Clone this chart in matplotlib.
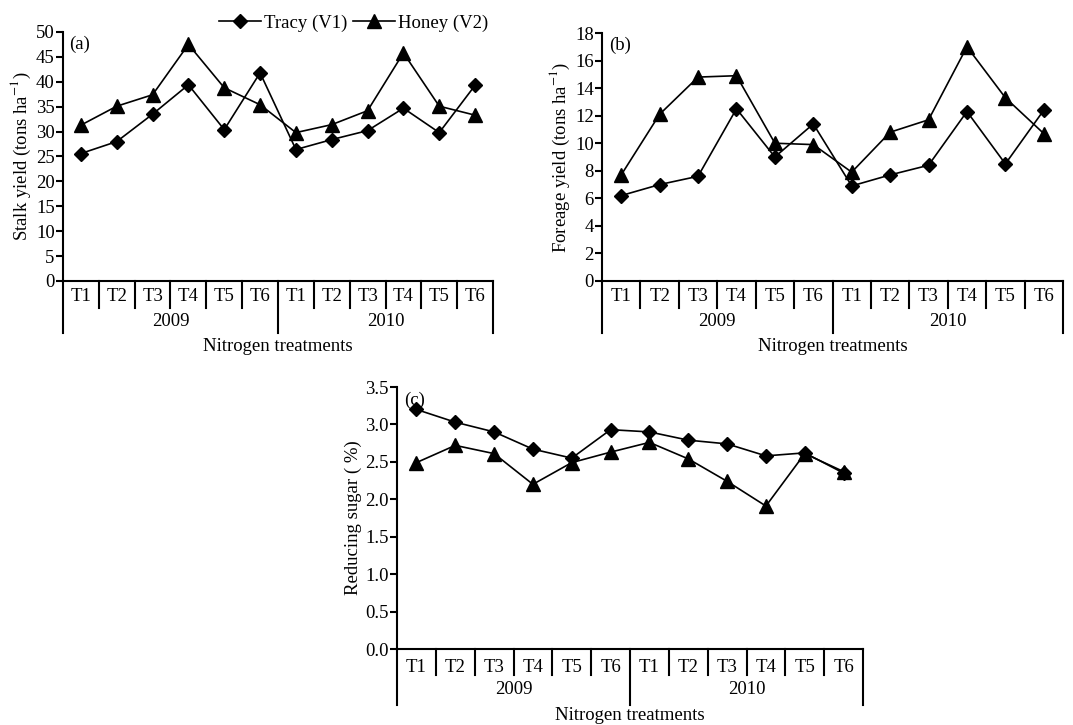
import matplotlib
matplotlib.use('Agg')
import matplotlib.pyplot as plt

plt.rcParams['font.family'] = ['Liberation Serif', 'DejaVu Serif']
plt.rcParams['mathtext.fontset'] = 'stix'
plt.rcParams['font.size'] = 11

# data
treatments = ['T1', 'T2', 'T3', 'T4', 'T5', 'T6'] * 2
years = ['2009', '2010']

stalk_tracy = [25.6, 28.0, 33.5, 39.4, 30.4, 41.8, 26.4, 28.4, 30.2, 34.7, 29.8, 39.3]
stalk_honey = [31.3, 35.1, 37.4, 47.5, 38.8, 35.4, 29.8, 31.4, 34.2, 45.8, 35.1, 33.3]

forage_tracy = [6.2, 7.0, 7.6, 12.5, 9.0, 11.4, 6.9, 7.7, 8.4, 12.3, 8.5, 12.4]
forage_honey = [7.7, 12.1, 14.8, 14.9, 10.0, 9.9, 7.9, 10.8, 11.7, 17.0, 13.3, 10.7]

sugar_tracy = [3.20, 3.03, 2.90, 2.67, 2.55, 2.93, 2.90, 2.79, 2.74, 2.58, 2.62, 2.35]
sugar_honey = [2.49, 2.72, 2.61, 2.20, 2.49, 2.63, 2.76, 2.54, 2.24, 1.91, 2.61, 2.37]

W, H = 1073, 725
fig = plt.figure(figsize=(W / 100, H / 100), dpi=100)
FS = 13.5


def panel(rect, tracy, honey, ylim, step, fmt, ylabel, tag, tpad, short, long_):
    ax = fig.add_axes(rect)
    x = list(range(len(tracy)))
    ax.plot(x, tracy, color='black', lw=1.2, marker='D', ms=7, label='Tracy (V1)')
    ax.plot(x, honey, color='black', lw=1.2, marker='^', ms=10.5, label='Honey (V2)')
    ax.set_xlim(-0.5, 11.5)
    ax.set_ylim(0, ylim)
    ticks = [i * step for i in range(int(round(ylim / step)) + 1)]
    ax.set_yticks(ticks)
    ax.set_yticklabels([fmt % t for t in ticks])
    ax.set_xticks([])
    for s in ['top', 'right']:
        ax.spines[s].set_visible(False)
    for s in ['left', 'bottom']:
        ax.spines[s].set_linewidth(1.5)
    ax.tick_params(axis='y', direction='out', length=5, width=1.5, pad=1, labelsize=FS)
    ax.set_ylabel(ylabel, fontsize=13.5, labelpad=2)
    ax.text(0.015, 0.95, tag, transform=ax.transAxes, fontsize=FS, va='center')

    # hierarchical category axis drawn below the plot
    hpx = rect[3] * H
    tr = ax.get_xaxis_transform()
    for i in range(13):
        xs = i - 0.5
        length = long_ if i in (0, 6, 12) else short
        ax.plot([xs, xs], [0, -length / hpx], color='black', lw=1.5,
                transform=tr, clip_on=False)
    for i, t in enumerate(treatments):
        ax.text(i, -tpad / hpx, t, transform=tr, ha='center', va='center', fontsize=FS)
    for j, yr in enumerate(years):
        ax.text(2.5 + 6 * j, -41 / hpx, yr, transform=tr, ha='center',
                va='center', fontsize=FS)
    ax.text(0.5, -66 / hpx, 'Nitrogen treatments', transform=ax.transAxes,
            ha='center', va='center', fontsize=13.5)
    return ax


ax_a = panel([63 / W, 1 - 281 / H, 430 / W, 249 / H], stalk_tracy, stalk_honey,
             50, 5, '%d', 'Stalk yield (tons ha$^{-1}$)', '(a)', 16, 27, 52)
ax_b = panel([602 / W, 1 - 281 / H, 461 / W, 248 / H], forage_tracy, forage_honey,
             18, 2, '%d', 'Foreage yield (tons ha$^{-1}$)', '(b)', 16, 27, 52)
ax_c = panel([397 / W, 1 - 649 / H, 466 / W, 262 / H], sugar_tracy, sugar_honey,
             3.5, 0.5, '%.1f', 'Reducing sugar ( %)', '(c)', 19, 26, 56)

handles, labels = ax_a.get_legend_handles_labels()
fig.legend(handles, labels, loc='center', bbox_to_anchor=(354 / W, 1 - 23 / H),
           ncol=2, frameon=False, fontsize=13.5, handlelength=2.2, handletextpad=0.2,
           columnspacing=0.3, borderpad=0)

fig.savefig('out.png', dpi=100)
